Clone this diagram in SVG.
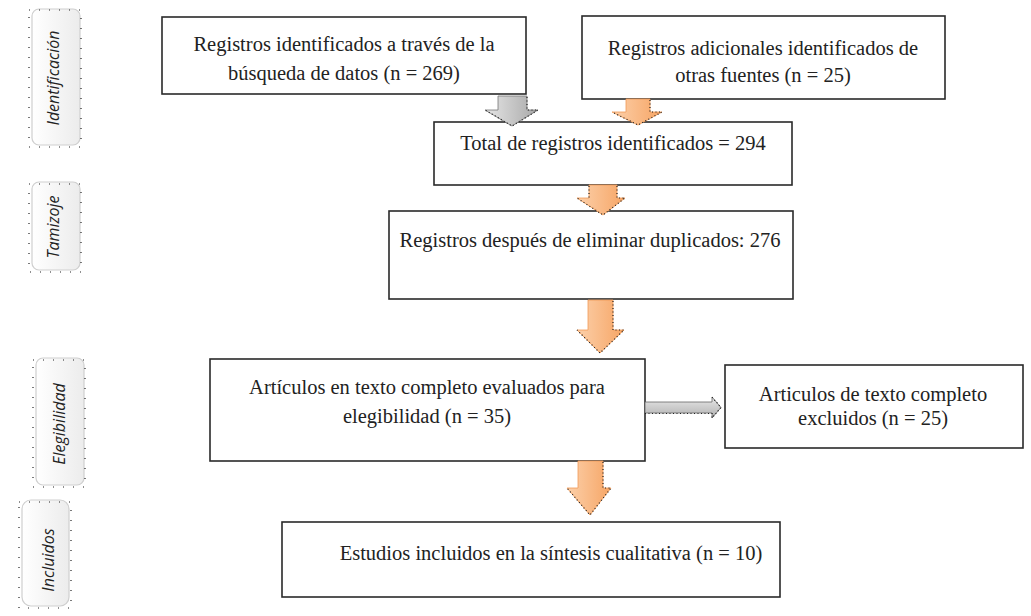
<svg xmlns="http://www.w3.org/2000/svg" width="1031" height="616" viewBox="0 0 1031 616">
<style>
.box{fill:#fff;stroke:#2a2a2a;stroke-width:1.6}
.t{font-family:"Liberation Serif","Times New Roman",serif;font-size:20.5px;fill:#222;text-anchor:middle}
.side{fill:url(#sideg);stroke:#cfcfcf;stroke-width:1.2}
.st{font-family:"Open Sans","DejaVu Sans",sans-serif;font-style:italic;font-size:16px;fill:#222;text-anchor:middle}
.orange{fill:url(#og);stroke:#f19a55;stroke-width:0.8}
.gray{fill:url(#gg);stroke:#777;stroke-width:0.8}
.dots{fill:none;stroke:#222;stroke-width:1.2;stroke-dasharray:1 2.5}
.sdots{fill:none;stroke:#222;stroke-width:1.2;stroke-dasharray:1 9}
</style>
<defs>
<linearGradient id="og" x1="0" y1="0" x2="1" y2="0">
<stop offset="0" stop-color="#fcd0aa"/><stop offset="1" stop-color="#f6a565"/>
</linearGradient>
<linearGradient id="gg" x1="0" y1="0" x2="1" y2="0">
<stop offset="0" stop-color="#e6e6e6"/><stop offset="1" stop-color="#a8a8a8"/>
</linearGradient>
<linearGradient id="ggh" x1="0" y1="0" x2="0" y2="1">
<stop offset="0" stop-color="#e8e8e8"/><stop offset="1" stop-color="#b0b0b0"/>
</linearGradient>
<linearGradient id="sideg" x1="0" y1="0" x2="1" y2="0">
<stop offset="0" stop-color="#ffffff"/><stop offset="1" stop-color="#ececec"/>
</linearGradient>
</defs>

<g id="side-identificacion">
<rect class="side" x="32" y="9" width="48" height="136" rx="7"/>
<rect class="sdots" x="29" y="10" width="52" height="137"/>
<text class="st" transform="translate(59,78) rotate(-90)">Identificación</text>
</g>
<g id="side-tamizoje">
<rect class="side" x="32" y="182" width="48" height="88" rx="7"/>
<rect class="sdots" x="29" y="184" width="52" height="88"/>
<text class="st" transform="translate(59,227) rotate(-90)">Tamizoje</text>
</g>
<g id="side-elegibilidad">
<rect class="side" x="36" y="358" width="48" height="127" rx="7"/>
<rect class="sdots" x="33" y="360" width="52" height="127"/>
<text class="st" transform="translate(65,424) rotate(-90)">Elegibilidad</text>
</g>
<g id="side-incluidos">
<rect class="side" x="22" y="500" width="47" height="106" rx="9"/>
<rect class="sdots" x="19" y="502" width="52" height="106"/>
<text class="st" transform="translate(54,560) rotate(-90)">Incluidos</text>
</g>

<g id="n1">
<rect class="box" x="162" y="17" width="364" height="77"/>
<text class="t" x="344" y="51">Registros identificados a través de la</text>
<text class="t" x="344" y="80">búsqueda de datos (n = 269)</text>
</g>
<g id="n2">
<rect class="box" x="582" y="16" width="363" height="83"/>
<text class="t" x="763" y="55">Registros adicionales identificados de</text>
<text class="t" x="763" y="82">otras fuentes (n = 25)</text>
</g>
<g id="n3">
<rect class="box" x="434" y="122" width="358" height="63"/>
<text class="t" x="613" y="150">Total de registros identificados = 294</text>
</g>
<g id="n4">
<rect class="box" x="389" y="211" width="404" height="88"/>
<text class="t" x="590" y="247">Registros después de eliminar duplicados: 276</text>
</g>
<g id="n5">
<rect class="box" x="210" y="359" width="435" height="102"/>
<text class="t" x="427" y="394">Artículos en texto completo evaluados para</text>
<text class="t" x="427" y="423">elegibilidad (n = 35)</text>
</g>
<g id="n6">
<rect class="box" x="725" y="365" width="298" height="83"/>
<text class="t" x="873" y="401">Articulos de texto completo</text>
<text class="t" x="873" y="425">excluidos (n = 25)</text>
</g>
<g id="n7">
<rect class="box" x="282" y="522" width="498" height="75"/>
<text class="t" x="551" y="560">Estudios incluidos en la síntesis cualitativa (n = 10)</text>
</g>

<g id="connectors">
<path class="gray" d="M498,96 H527 V110 H538 L512,126 L485,110 H498 Z"/>
<path class="dots" d="M527,97 V110 H538 L512,126 L485,110"/>
<path class="orange" d="M626,99 H650 V112 H662 L638,125 L612,112 H626 Z"/>
<path class="dots" d="M650,100 V112 H662 L638,125 L612,112"/>
<path class="orange" d="M589,185 H617 V198 H625 L603,215 L577,198 H589 Z"/>
<path class="dots" d="M617,186 V198 H625 L603,215 L577,198 M589,186 V198"/>
<path class="orange" d="M588,300 H613 V330 H624 L600,353 L577,330 H588 Z"/>
<path class="dots" d="M613,301 V330 H624 L600,353 L577,330"/>
<path class="orange" d="M578,461 H603 V488 H611 L590,515 L567,488 H578 Z"/>
<path class="dots" d="M603,462 V488 H611 L590,515 L567,488"/>
<path d="M645,402 H712 V397 L721,407.5 L712,418 V413 H645 Z" fill="url(#ggh)" stroke="#666" stroke-width="0.8"/>
<path class="dots" d="M645,413.5 H712 V418 L721,407.5 L712,397"/>
</g>
</svg>
